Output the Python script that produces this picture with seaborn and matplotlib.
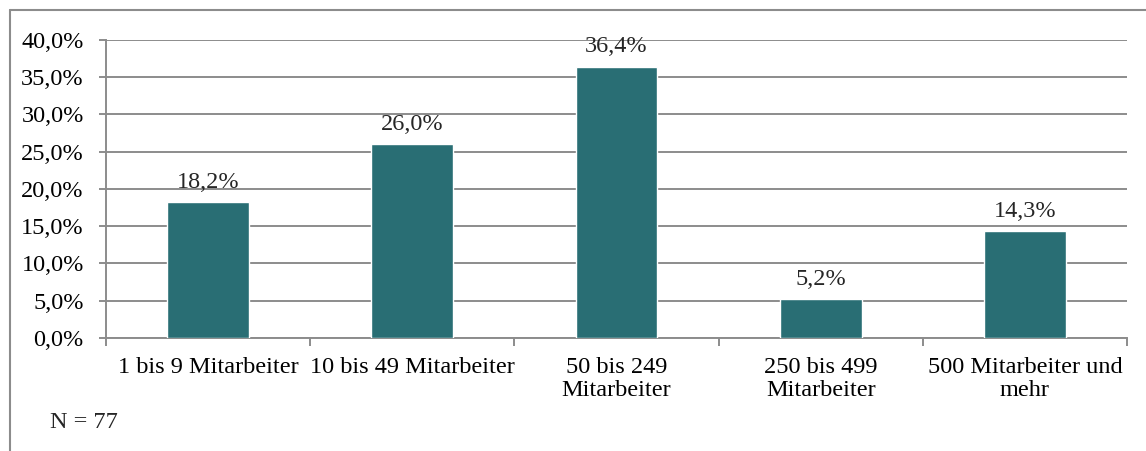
import matplotlib
matplotlib.use("Agg")
import matplotlib.pyplot as plt
from matplotlib.lines import Line2D
from matplotlib.ticker import FuncFormatter, MultipleLocator
import seaborn as sns
import pandas as pd

# Unternehmensgröße (Anteil der Befragten in %)
categories = [
    "1 bis 9 Mitarbeiter",
    "10 bis 49 Mitarbeiter",
    "50 bis 249\nMitarbeiter",
    "250 bis 499\nMitarbeiter",
    "500 Mitarbeiter und\nmehr",
]
shares = [18.2, 26.0, 36.4, 5.2, 14.3]
sample_note = "N = 77"

bar_color = "#296E74"
grid_color = "#8C8C8C"
fs = 17.5

sns.set_theme(style="white")
plt.rcParams["font.family"] = ["Liberation Serif", "DejaVu Serif"]

df = pd.DataFrame({"Kategorie": categories, "Anteil": shares})

fig = plt.figure(figsize=(11.46, 4.51), dpi=100)
ax = fig.add_axes([0.0925, 0.2506, 0.8909, 0.6607])

sns.barplot(data=df, x="Kategorie", y="Anteil", color=bar_color,
            width=0.4, saturation=1, ax=ax, zorder=3)

ax.set_ylim(0, 40)
ax.set_xlim(-0.5, len(categories) - 0.5)
ax.yaxis.set_major_locator(MultipleLocator(5))
ax.yaxis.set_major_formatter(
    FuncFormatter(lambda v, _: f"{v:.1f}%".replace(".", ",")))
ax.set_xlabel("")
ax.set_ylabel("")

ax.grid(axis="y", color=grid_color, linewidth=1.4, zorder=0)
ax.set_axisbelow(True)
for side in ("top", "right"):
    ax.spines[side].set_visible(False)
for side in ("left", "bottom"):
    ax.spines[side].set_color(grid_color)
    ax.spines[side].set_linewidth(1.4)

# category ticks sit on the boundaries between groups
ax.set_xticks([i - 0.5 for i in range(len(categories) + 1)], minor=True)
ax.tick_params(axis="x", which="minor", length=6, width=1.4,
               color=grid_color, direction="out", bottom=True)
ax.tick_params(axis="x", which="major", length=0, pad=14,
               labelsize=fs, colors="black")
ax.tick_params(axis="y", length=5, width=1.4, color=grid_color,
               direction="out", left=True, pad=11, labelsize=fs,
               labelcolor="black")
for lbl in ax.get_xticklabels():
    lbl.set_linespacing(1.12)

labels = [f"{v:.1f}%".replace(".", ",") for v in shares]
ax.bar_label(ax.containers[0], labels=labels, padding=7, fontsize=fs)

fig.text(50 / 1146, 1 - 423 / 451, sample_note, fontsize=fs,
         ha="left", va="center")

# chart frame (left and top edges)
x0, y0 = 10 / 1146, 1 - 10 / 451
fig.add_artist(Line2D([x0, x0], [0, y0], transform=fig.transFigure,
                      color="#8C8C8C", linewidth=1.5))
fig.add_artist(Line2D([x0, 1], [y0, y0], transform=fig.transFigure,
                      color="#8C8C8C", linewidth=1.5))

fig.savefig("out.png", dpi=100)
